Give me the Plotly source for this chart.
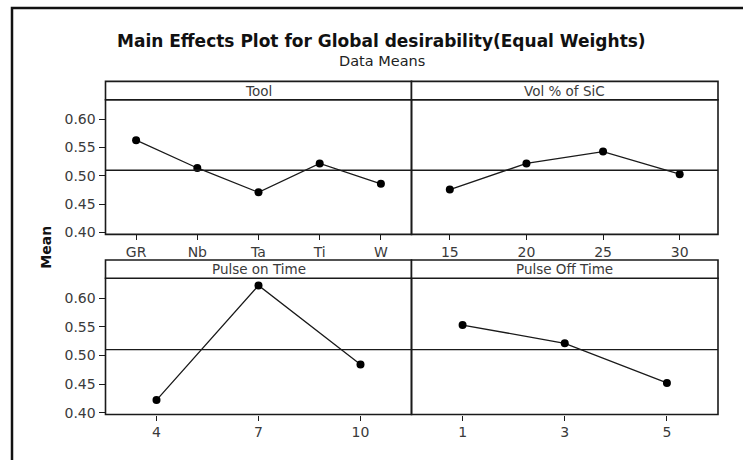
import plotly.graph_objects as go

W, H = 743, 460

# ---- data ----
tool_levels = ["GR", "Nb", "Ta", "Ti", "W"]
tool_means = [0.563, 0.514, 0.471, 0.522, 0.486]

vol_levels = ["15", "20", "25", "30"]
vol_means = [0.476, 0.522, 0.543, 0.503]

pon_levels = ["4", "7", "10"]
pon_means = [0.422, 0.622, 0.484]

poff_levels = ["1", "3", "5"]
poff_means = [0.553, 0.521, 0.452]

grand_mean = 0.5100
y_ticks = [0.40, 0.45, 0.50, 0.55, 0.60]
panel_titles = ["Tool", "Vol % of SiC", "Pulse on Time", "Pulse Off Time"]

# ---- layout geometry (pixels) ----
def px_x(x):
    return x / W

def px_y(y):
    return 1 - y / H

xl0, xm, xr1 = 105.5, 411.5, 718
top_body = (101, 237.5)
bot_body = (282, 420)
strip_h = 18.5

panels = [
    ("x", "y", tool_levels, tool_means, (xl0, xm), top_body, True),
    ("x2", "y2", vol_levels, vol_means, (xm, xr1), top_body, False),
    ("x3", "y3", pon_levels, pon_means, (xl0, xm), bot_body, True),
    ("x4", "y4", poff_levels, poff_means, (xm, xr1), bot_body, False),
]

fig = go.Figure()
line_col = "#1a1a1a"
text_col = "#3a3a3a"
yr = [0.3968, 0.6345]
tick_font = dict(family="DejaVu Sans", size=14, color=text_col)

shapes = []
annotations = []
for i, (xa, ya, lev, vals, (x0, x1), (yt, yb), show_y) in enumerate(panels):
    fig.add_trace(go.Scatter(
        x=lev, y=vals, xaxis=xa, yaxis=ya, mode="lines+markers",
        line=dict(color=line_col, width=1.3),
        marker=dict(color="black", size=8),
        showlegend=False, hoverinfo="x+y",
    ))
    sfx = "" if i == 0 else str(i + 1)
    n = len(lev)
    fig.update_layout(**{
        "xaxis" + sfx: dict(
            domain=[px_x(x0), px_x(x1)], anchor=ya, type="category",
            categoryorder="array", categoryarray=lev,
            range=[-0.5, n - 0.5], showline=False,
            ticks="outside", ticklen=5, tickwidth=1.3,
            tickcolor=line_col, showgrid=False, zeroline=False,
            tickfont=tick_font, fixedrange=True,
        ),
        "yaxis" + sfx: dict(
            domain=[px_y(yb), px_y(yt)], anchor=xa, range=yr,
            tickvals=y_ticks if show_y else [],
            ticktext=[f"{v:.2f}" for v in y_ticks] if show_y else [],
            showticklabels=show_y, showline=False,
            ticks="outside" if show_y else "", ticklen=6, tickwidth=1.3,
            tickcolor=line_col, showgrid=False, zeroline=False,
            tickfont=tick_font, fixedrange=True,
        ),
    })
    # grand mean reference line
    shapes.append(dict(type="line", xref=xa + " domain", yref=ya,
                       x0=0, x1=1, y0=grand_mean, y1=grand_mean,
                       line=dict(color=line_col, width=1.3)))
    # panel frame
    shapes.append(dict(type="rect", xref="paper", yref="paper",
                       x0=px_x(x0), x1=px_x(x1), y0=px_y(yb), y1=px_y(yt),
                       line=dict(color=line_col, width=1.6)))
    # strip box
    shapes.append(dict(type="rect", xref="paper", yref="paper",
                       x0=px_x(x0), x1=px_x(x1),
                       y0=px_y(yt), y1=px_y(yt - strip_h),
                       line=dict(color=line_col, width=1.6),
                       fillcolor="white"))
    annotations.append(dict(text=panel_titles[i], xref="paper", yref="paper",
                            x=(px_x(x0) + px_x(x1)) / 2,
                            y=px_y(yt - strip_h / 2), showarrow=False,
                            xanchor="center", yanchor="middle",
                            font=dict(family="DejaVu Sans", size=13.5,
                                      color=text_col)))

# outer frame (extends beyond right/bottom edges)
shapes.append(dict(type="rect", xref="paper", yref="paper",
                   x0=px_x(12), x1=px_x(780), y0=px_y(500), y1=px_y(8),
                   line=dict(color="#111111", width=2.5)))

annotations += [
    dict(text="<b>Main Effects Plot for Global desirability(Equal Weights)</b>",
         xref="paper", yref="paper", x=px_x(382), y=px_y(42),
         showarrow=False, xanchor="center", yanchor="middle",
         font=dict(family="DejaVu Sans", size=17, color="#111111")),
    dict(text="Data Means", xref="paper", yref="paper", x=px_x(382),
         y=px_y(62), showarrow=False, xanchor="center", yanchor="middle",
         font=dict(family="DejaVu Sans", size=14.5, color="#222222")),
    dict(text="<b>Mean</b>", xref="paper", yref="paper", x=px_x(46),
         y=px_y(251), showarrow=False, xanchor="center", yanchor="middle",
         textangle=-90,
         font=dict(family="DejaVu Sans", size=14, color="#111111")),
]

fig.update_layout(
    width=W, height=H, margin=dict(l=0, r=0, t=0, b=0),
    paper_bgcolor="white", plot_bgcolor="white",
    shapes=shapes, annotations=annotations,
)

fig.write_html(
    "out.html",
    config={"displayModeBar": False},
    post_script="document.body.style.margin='0';"
                "document.body.style.overflow='hidden';",
)
